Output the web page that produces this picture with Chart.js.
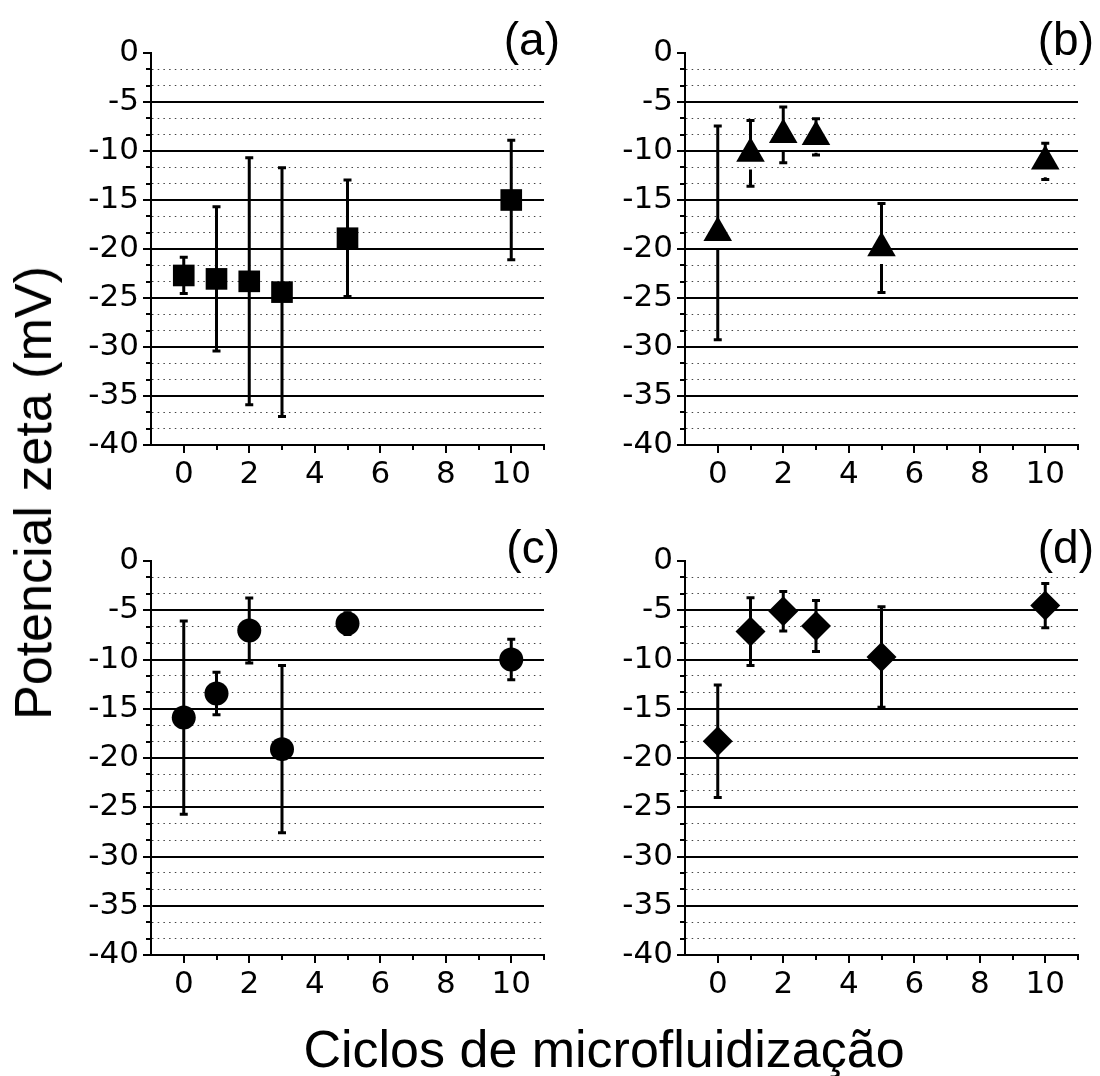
<!DOCTYPE html>
<html>
<head>
<meta charset="utf-8">
<script src="https://cdn.jsdelivr.net/npm/chart.js@4.4.0/dist/chart.umd.min.js"></script>
<style>
body { margin: 0; background: #fff; }
#pagina { position: relative; width: 1100px; height: 1076px; overflow: hidden; font-family: "Liberation Sans", Arial, sans-serif; }
canvas { position: absolute; }
.titulo { position: absolute; color: #000; font-size: 52px; line-height: 52px; white-space: nowrap; }
#tituloX { left: 604px; top: 1023px; transform: translateX(-50%); }
#tituloY { left: 33px; top: 493px; transform: translate(-50%, -50%) rotate(-90deg); }
</style>
</head>
<body>
<div id="pagina">
  <canvas id="graficoA" width="530" height="500" style="left:40px;top:0px"></canvas>
  <canvas id="graficoB" width="526" height="500" style="left:574px;top:0px"></canvas>
  <canvas id="graficoC" width="530" height="500" style="left:40px;top:508px"></canvas>
  <canvas id="graficoD" width="526" height="500" style="left:574px;top:508px"></canvas>
  <div class="titulo" id="tituloY">Potencial zeta (mV)</div>
  <div class="titulo" id="tituloX">Ciclos de microfluidização</div>
</div>
<script>
// dados
var ciclos = [0, 1, 2, 3, 5, 10];

var zetaA = [-22.7, -23.05, -23.3, -24.4, -18.9, -15.0];
var erroA = [1.85, 7.35, 12.6, 12.7, 5.95, 6.1];

var zetaB = [-18.35, -10.25, -8.35, -8.55, -19.9, -11.05];
var erroB = [10.9, 3.35, 2.85, 1.85, 4.55, 1.85];

var zetaC = [-15.9, -13.45, -7.05, -19.1, -6.35, -10.0];
var erroC = [9.8, 2.15, 3.3, 8.5, 1.1, 2.05];

var zetaD = [-18.3, -7.17, -5.1, -6.6, -9.75, -4.53];
var erroD = [5.7, 3.45, 2.0, 2.6, 5.1, 2.25];

// marcas dos eixos
var ticksY = [];
for (var k = 0; k <= 24; k++) ticksY.push(-40 + k * 5 / 3);
var ticksX = [-1, 0, 1, 2, 3, 4, 5, 6, 7, 8, 9, 10, 11];
var rotulosX = [0, 2, 4, 6, 8, 10];

function ehPrincipal(v) {
    return Math.abs(v / 5 - Math.round(v / 5)) < 1e-6;
}

// barras de erro desenhadas antes dos marcadores
var pluginErro = {
    id: 'barrasErro',
    beforeDatasetsDraw: function (chart) {
        var cfg = chart.options.plugins.barrasErro;
        var sx = chart.scales.x, sy = chart.scales.y;
        var ctx = chart.ctx;
        ctx.save();
        ctx.strokeStyle = '#000';
        ctx.lineWidth = 3;
        for (var i = 0; i < ciclos.length; i++) {
            var px = sx.getPixelForValue(ciclos[i]);
            var pc = sy.getPixelForValue(cfg.zeta[i]);
            var pt = sy.getPixelForValue(cfg.zeta[i] + cfg.erro[i]);
            var pb = sy.getPixelForValue(cfg.zeta[i] - cfg.erro[i]);
            ctx.beginPath();
            ctx.moveTo(px, pt);
            ctx.lineTo(px, pc);
            if (pc + cfg.folga < pb) {
                ctx.moveTo(px, pc + cfg.folga);
                ctx.lineTo(px, pb);
            }
            ctx.moveTo(px - 4, pt);
            ctx.lineTo(px + 4, pt);
            ctx.moveTo(px - 4, pb);
            ctx.lineTo(px + 4, pb);
            ctx.stroke();
        }
        ctx.restore();
    }
};

// tracinhos dos eixos (principais e secundarios) e rotulo do painel
var pluginEixos = {
    id: 'eixosOrigin',
    afterDraw: function (chart) {
        var sx = chart.scales.x, sy = chart.scales.y;
        var area = chart.chartArea;
        var ctx = chart.ctx;
        ctx.save();
        ctx.strokeStyle = '#000';
        ctx.lineWidth = 2;
        ctx.beginPath();
        ticksY.forEach(function (v) {
            var py = Math.round(sy.getPixelForValue(v));
            var len = ehPrincipal(v) ? 8 : 5;
            ctx.moveTo(area.left, py);
            ctx.lineTo(area.left - len, py);
        });
        ticksX.forEach(function (v) {
            if (v < 0) return;
            var px = Math.round(sx.getPixelForValue(v));
            var len = (v % 2 === 0) ? 8 : 5;
            ctx.moveTo(px, area.bottom);
            ctx.lineTo(px, area.bottom + len);
        });
        ctx.stroke();
        ctx.fillStyle = '#000';
        ctx.font = '46px "Liberation Sans", Arial, sans-serif';
        ctx.textAlign = 'right';
        ctx.textBaseline = 'alphabetic';
        ctx.fillText(chart.options.plugins.barrasErro.rotulo, area.right + 16, area.top + 2);
        ctx.restore();
    }
};

function criarPainel(idCanvas, zeta, erro, marcador, raio, folga, rotulo, direita, alturaX) {
    var pontos = ciclos.map(function (c, i) { return { x: c, y: zeta[i] }; });
    var fonteTicks = { family: '"DejaVu Sans", sans-serif', size: 31 };

    return new Chart(document.getElementById(idCanvas), {
        type: 'scatter',
        data: {
            datasets: [{
                data: pontos,
                pointStyle: marcador,
                pointRadius: raio,
                pointHoverRadius: raio,
                backgroundColor: '#000',
                borderColor: '#000',
                borderWidth: 0,
                showLine: false,
                clip: false
            }]
        },
        options: {
            responsive: false,
            animation: false,
            devicePixelRatio: 1,
            events: [],
            layout: { padding: { top: 53, right: direita, left: 0, bottom: 0 } },
            plugins: {
                legend: { display: false },
                tooltip: { enabled: false },
                barrasErro: { zeta: zeta, erro: erro, folga: folga, rotulo: rotulo }
            },
            scales: {
                x: {
                    type: 'linear',
                    min: -1,
                    max: 11,
                    afterBuildTicks: function (s) {
                        s.ticks = ticksX.map(function (v) { return { value: v }; });
                    },
                    afterFit: function (s) { s.height = alturaX; },
                    ticks: {
                        autoSkip: false,
                        maxRotation: 0,
                        padding: 11,
                        color: '#000',
                        font: fonteTicks,
                        callback: function (v) {
                            return rotulosX.indexOf(v) >= 0 ? String(v) : '';
                        }
                    },
                    grid: { drawOnChartArea: false, drawTicks: false },
                    border: { color: '#000', width: 2 }
                },
                y: {
                    type: 'linear',
                    min: -40,
                    max: 0,
                    afterBuildTicks: function (s) {
                        s.ticks = ticksY.map(function (v) { return { value: v }; });
                    },
                    afterFit: function (s) { s.width = 111; },
                    ticks: {
                        autoSkip: false,
                        padding: 12,
                        color: '#000',
                        font: fonteTicks,
                        callback: function (v) {
                            return ehPrincipal(v) ? String(Math.round(v)) : '';
                        }
                    },
                    grid: {
                        drawTicks: false,
                        color: function (c) {
                            if (!c.tick) return '#000';
                            var v = c.tick.value;
                            if (Math.abs(v) < 1e-6 || Math.abs(v + 40) < 1e-6) return 'rgba(0,0,0,0)';
                            return ehPrincipal(v) ? '#000' : '#444';
                        },
                        lineWidth: function (c) {
                            return (c.tick && ehPrincipal(c.tick.value)) ? 2 : 1;
                        }
                    },
                    border: {
                        color: '#000',
                        width: 2,
                        dash: function (c) {
                            return (c.tick && !ehPrincipal(c.tick.value)) ? [1.5, 4.2] : [];
                        }
                    }
                }
            }
        },
        plugins: [pluginErro, pluginEixos]
    });
}

criarPainel('graficoA', zetaA, erroA, 'rect', 15.3, 0, '(a)', 26, 55);
criarPainel('graficoB', zetaB, erroB, 'triangle', 16.5, 16, '(b)', 22, 55);
criarPainel('graficoC', zetaC, erroC, 'circle', 12, 0, '(c)', 26, 53);
criarPainel('graficoD', zetaD, erroD, 'rectRot', 15, 0, '(d)', 22, 53);
</script>
</body>
</html>
